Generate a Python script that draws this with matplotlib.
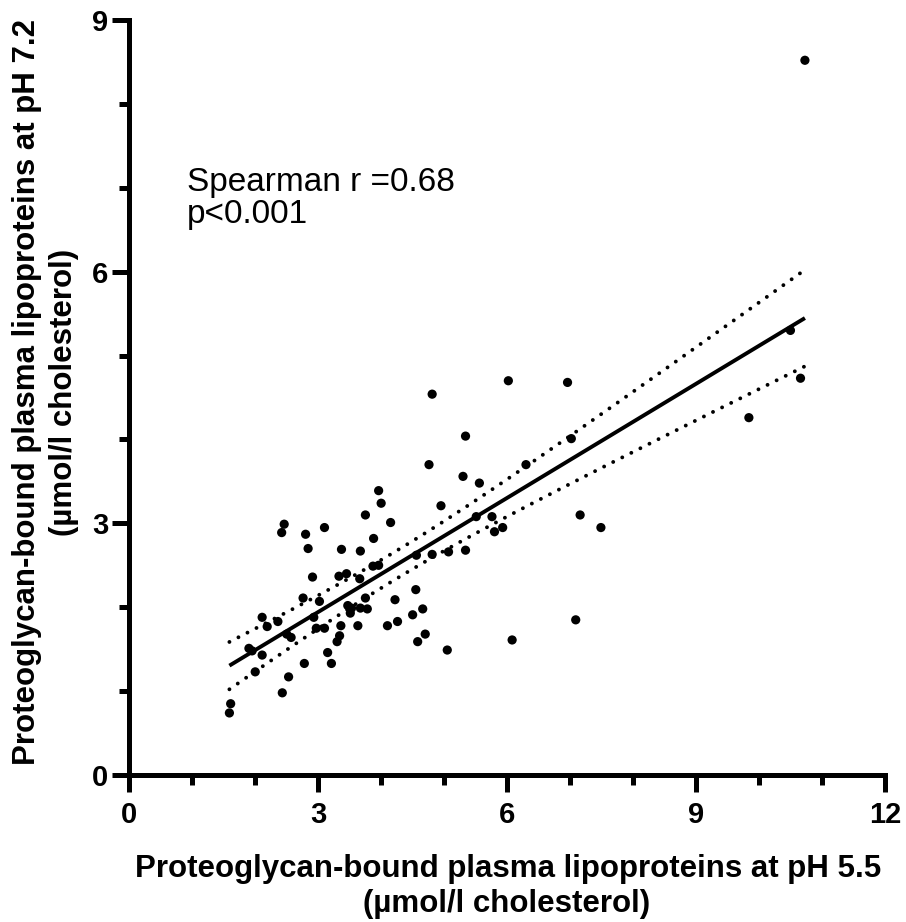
import numpy as np
import matplotlib
matplotlib.use('Agg')
import matplotlib.pyplot as plt
from matplotlib.ticker import MultipleLocator

plt.rcParams['font.family'] = ['Liberation Sans', 'DejaVu Sans']

# PG-bound lipoproteins, pH 5.5 (x) vs pH 7.2 (y), umol/l cholesterol
ph55 = [3.96, 4.00, 3.75, 4.15, 2.46, 2.42, 3.10, 2.80, 3.88, 2.84, 3.37, 3.67, 4.56, 3.87,
        3.96, 2.91, 3.33, 3.45, 3.66, 4.55, 2.76, 3.02, 3.75, 4.22, 3.47, 3.53, 3.51, 3.67,
        3.78, 4.66, 4.50, 2.11, 2.19, 2.36, 2.93, 2.97, 3.10, 3.36, 3.63, 4.10, 4.26, 2.50,
        2.57, 3.34, 3.30, 4.70, 4.58, 1.90, 1.95, 2.11, 3.15, 2.78, 3.21, 2.00, 2.53, 2.43,
        1.61, 1.59, 6.02, 6.96, 4.81, 5.34, 4.76, 6.30, 7.02, 5.30, 5.56, 4.95, 5.51, 5.76,
        5.80, 5.93, 7.16, 7.49, 4.81, 5.07, 5.34, 7.09, 5.05, 6.08, 10.50, 10.66, 9.84, 10.73]
ph72 = [3.39, 3.24, 3.10, 3.01, 2.99, 2.89, 2.95, 2.87, 2.82, 2.70, 2.69, 2.67, 2.62, 2.49,
        2.50, 2.36, 2.37, 2.40, 2.34, 2.21, 2.11, 2.07, 2.11, 2.09, 2.02, 1.99, 1.93, 1.99,
        1.98, 1.98, 1.91, 1.88, 1.77, 1.83, 1.88, 1.75, 1.75, 1.78, 1.78, 1.78, 1.83, 1.68,
        1.64, 1.66, 1.59, 1.68, 1.59, 1.51, 1.48, 1.43, 1.46, 1.33, 1.33, 1.23, 1.17, 0.98,
        0.85, 0.74, 4.70, 4.68, 4.54, 4.04, 3.70, 3.70, 4.01, 3.56, 3.48, 3.21, 3.08, 3.08,
        2.90, 2.95, 3.10, 2.95, 2.63, 2.66, 2.68, 1.85, 1.49, 1.61, 5.30, 4.73, 4.26, 8.52]

xticks = [0, 3, 6, 9, 12]
yticks = [0, 3, 6, 9]
stat_lines = ['Spearman r =0.68', 'p<0.001']
xlab = ['Proteoglycan-bound plasma lipoproteins at pH 5.5', '(µmol/l cholesterol)']
ylab = ['Proteoglycan-bound plasma lipoproteins at pH 7.2', '(µmol/l cholesterol)']
t_crit = 1.989  # t(0.975, n-2)

x = np.array(ph55)
y = np.array(ph72)
n = len(x)

# linear fit + 95% confidence band of the fit
slope, icpt = np.polyfit(x, y, 1)
resid = y - (slope * x + icpt)
s = np.sqrt(np.sum(resid ** 2) / (n - 2))
sxx = np.sum((x - x.mean()) ** 2)
xf = np.linspace(x.min(), x.max(), 200)
yf = slope * xf + icpt
half = t_crit * s * np.sqrt(1.0 / n + (xf - x.mean()) ** 2 / sxx)

fig = plt.figure(figsize=(9.06, 9.22), dpi=100)
ax = fig.add_axes([0.1427, 0.1594, 0.834, 0.8189])

ax.scatter(x, y, s=44, color='black', edgecolors='none', zorder=3, clip_on=False)
ax.plot(xf, yf, color='black', lw=2.8, solid_capstyle='butt')
for band in (yf + half, yf - half):
    ax.plot(xf, band, color='black', lw=2.8, linestyle=(0, (0.01, 2.6)),
            dash_capstyle='round')

ax.text(0.916, 6.96, stat_lines[0], fontsize=24, va='baseline', ha='left')
ax.text(0.916, 6.58, stat_lines[1], fontsize=24, va='baseline', ha='left')

ax.set_xlim(0, 12)
ax.set_ylim(0, 9)
ax.set_xticks(xticks)
ax.set_yticks(yticks)
ax.xaxis.set_minor_locator(MultipleLocator(1))
ax.yaxis.set_minor_locator(MultipleLocator(1))

for side in ('top', 'right'):
    ax.spines[side].set_visible(False)
for side in ('left', 'bottom'):
    ax.spines[side].set_linewidth(3.6)
    ax.spines[side].set_capstyle('projecting')

ax.tick_params(which='major', length=12, width=3.6, labelsize=21)
ax.tick_params(axis='x', which='major', pad=7)
ax.tick_params(axis='y', which='major', pad=3)
ax.tick_params(which='minor', length=7, width=3.6)
for lab in ax.get_xticklabels() + ax.get_yticklabels():
    lab.set_fontweight('bold')

# axis titles, one text per line (baselines)
fig.text(0.5607, 0.0488, xlab[0], fontsize=22.5, fontweight='bold', ha='center', va='baseline')
fig.text(0.5596, 0.0108, xlab[1], fontsize=22.5, fontweight='bold', ha='center', va='baseline')
fig.text(0.0386, 0.5748, ylab[0], fontsize=22.5, fontweight='bold', ha='center', va='baseline',
         rotation=90, rotation_mode='anchor')
fig.text(0.0795, 0.5748, ylab[1], fontsize=22.5, fontweight='bold', ha='center', va='baseline',
         rotation=90, rotation_mode='anchor')

fig.savefig('out.png', dpi=100)
